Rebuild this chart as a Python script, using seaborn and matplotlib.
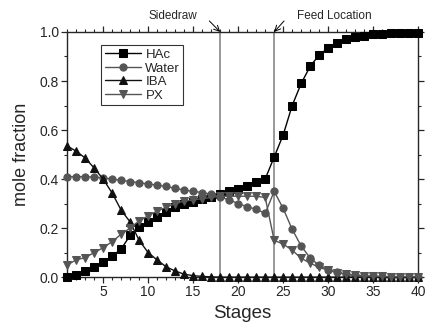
import numpy as np
import pandas as pd
import matplotlib
matplotlib.use('Agg')
import matplotlib.pyplot as plt
from matplotlib.ticker import MultipleLocator
import seaborn as sns

# Stage profiles (liquid mole fraction)
stages = list(range(1, 41))

hac = [0.00, 0.01, 0.025, 0.04, 0.06, 0.085, 0.115, 0.17, 0.205, 0.225,
       0.245, 0.265, 0.285, 0.30, 0.306, 0.318, 0.327, 0.34, 0.35, 0.36,
       0.37, 0.39, 0.40, 0.49, 0.58, 0.70, 0.79, 0.86, 0.906, 0.935,
       0.955, 0.97, 0.98, 0.985, 0.99, 0.992, 0.994, 0.995, 0.996, 0.997]

water = [0.41, 0.41, 0.41, 0.408, 0.405, 0.40, 0.395, 0.39, 0.385, 0.38,
         0.375, 0.37, 0.362, 0.355, 0.35, 0.345, 0.338, 0.327, 0.315, 0.30,
         0.287, 0.277, 0.26, 0.35, 0.28, 0.195, 0.127, 0.078, 0.048, 0.03,
         0.02, 0.012, 0.008, 0.005, 0.003, 0.002, 0.001, 0.001, 0.0, 0.0]

iba = [0.535, 0.514, 0.486, 0.445, 0.40, 0.343, 0.273, 0.225, 0.15, 0.10,
       0.07, 0.042, 0.025, 0.012, 0.006, 0.003, 0.001, 0.0, 0.0, 0.0,
       0.0, 0.0, 0.0, 0.0, 0.0, 0.0, 0.0, 0.0, 0.0, 0.0,
       0.0, 0.0, 0.0, 0.0, 0.0, 0.0, 0.0, 0.0, 0.0, 0.0]

px = [0.05, 0.07, 0.08, 0.10, 0.12, 0.145, 0.175, 0.20, 0.23, 0.25,
      0.27, 0.285, 0.30, 0.31, 0.315, 0.32, 0.325, 0.33, 0.33, 0.33,
      0.33, 0.33, 0.325, 0.15, 0.135, 0.11, 0.077, 0.057, 0.04, 0.028,
      0.018, 0.012, 0.008, 0.005, 0.004, 0.003, 0.002, 0.002, 0.002, 0.002]

sidedraw_stage = 18
feed_stage = 24

series = {'HAc': hac, 'Water': water, 'IBA': iba, 'PX': px}
colors = {'HAc': 'black', 'Water': '#555555', 'IBA': '#111111', 'PX': '#555555'}
markers = {'HAc': 's', 'Water': 'o', 'IBA': '^', 'PX': 'v'}

sns.set_style('ticks')
plt.rcParams['font.family'] = ['Liberation Sans', 'DejaVu Sans']

fig = plt.figure(figsize=(4.25, 3.23), dpi=100)
ax = fig.add_axes([0.158, 0.142, 0.826, 0.759])

ax.axvline(sidedraw_stage, color='#888888', linewidth=1.2, zorder=1)
ax.axvline(feed_stage, color='#888888', linewidth=1.2, zorder=1)

for name, vals in series.items():
    df = pd.DataFrame({'stage': stages, 'x': vals})
    sns.lineplot(data=df, x='stage', y='x', ax=ax, color=colors[name],
                 marker=markers[name], markersize=5.2, linewidth=1.0,
                 markeredgecolor=colors[name], label=name, clip_on=False,
                 zorder=3)

ax.set_xlim(1, 40)
ax.set_ylim(0, 1.0)
ax.xaxis.set_major_locator(MultipleLocator(5))
ax.xaxis.set_minor_locator(MultipleLocator(1))
ax.yaxis.set_major_locator(MultipleLocator(0.2))
ax.yaxis.set_minor_locator(MultipleLocator(0.1))
ax.set_xticks([5, 10, 15, 20, 25, 30, 35, 40])
ax.yaxis.set_major_formatter(matplotlib.ticker.FormatStrFormatter('%.1f'))

ax.tick_params(axis='both', which='major', labelsize=10, length=4, width=0.9,
               direction='out', pad=2)
ax.tick_params(axis='both', which='minor', length=2.5, width=0.8, direction='out')
ax.tick_params(top=True, right=True, which='both')
for spine in ax.spines.values():
    spine.set_linewidth(1.0)
    spine.set_visible(True)

ax.set_xlabel('Stages', fontsize=13.5, labelpad=4)
ax.set_ylabel('mole fraction', fontsize=13, labelpad=7)

leg = ax.legend(loc='upper left', bbox_to_anchor=(0.097, 0.945), fontsize=9.5,
                frameon=True, fancybox=False, edgecolor='black',
                handlelength=2.8, handletextpad=0.3, labelspacing=0.1,
                borderpad=0.25, borderaxespad=0)
leg.get_frame().set_linewidth(0.8)

# annotation labels above the frame, with short arrows onto the lines
ax.text(12.7, 1.065, 'Sidedraw', fontsize=8.5, ha='center', va='center')
ax.text(30.7, 1.065, 'Feed Location', fontsize=8.5, ha='center', va='center')
ax.annotate('', xy=(sidedraw_stage, 1.0), xytext=(16.8, 1.045),
            annotation_clip=False,
            arrowprops=dict(arrowstyle='->', color='black', linewidth=0.7,
                            shrinkA=0, shrinkB=0))
ax.annotate('', xy=(feed_stage, 1.0), xytext=(25.1, 1.045),
            annotation_clip=False,
            arrowprops=dict(arrowstyle='->', color='black', linewidth=0.7,
                            shrinkA=0, shrinkB=0))

fig.savefig('out.png', dpi=100)
